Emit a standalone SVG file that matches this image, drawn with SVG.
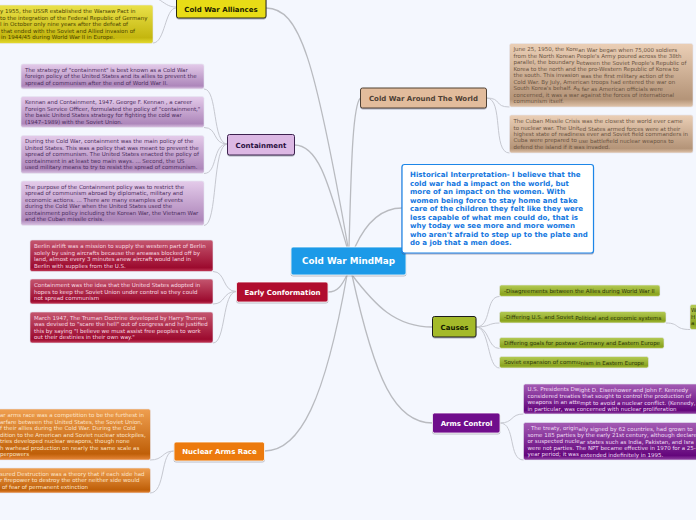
<svg xmlns="http://www.w3.org/2000/svg" width="696" height="520" viewBox="0 0 696 520">
<style>
text{font-family:"DejaVu Sans",Verdana,sans-serif}
.l{font-size:5.5px}
.n{font-size:7px;font-weight:bold;text-anchor:middle}
.c{fill:none;stroke:#c6c8d0;stroke-width:1}
.m{fill:none;stroke:#b9bbc0;stroke-width:1.3}
.leaf{stroke:#e4e6f0;stroke-width:.6}
.node{filter:url(#s)}
</style>
<defs>
<filter id="s" x="-10%" y="-20%" width="120%" height="150%"><feDropShadow dx="0" dy="1" stdDeviation=".7" flood-color="#556" flood-opacity=".45"/></filter>
<linearGradient id="gy" x1="0" y1="0" x2="0" y2="1"><stop offset="0" stop-color="#eae14a"/><stop offset=".85" stop-color="#c4b60e"/><stop offset="1" stop-color="#e6dc30"/></linearGradient>
<linearGradient id="gp" x1="0" y1="0" x2="0" y2="1"><stop offset="0" stop-color="#e4cbea"/><stop offset=".88" stop-color="#ad86ba"/><stop offset="1" stop-color="#dcc6e4"/></linearGradient>
<linearGradient id="gr" x1="0" y1="0" x2="0" y2="1"><stop offset="0" stop-color="#c4566f"/><stop offset=".88" stop-color="#9c0a2e"/><stop offset="1" stop-color="#c23a58"/></linearGradient>
<linearGradient id="go" x1="0" y1="0" x2="0" y2="1"><stop offset="0" stop-color="#ef9f50"/><stop offset=".88" stop-color="#bf5f08"/><stop offset="1" stop-color="#e8883a"/></linearGradient>
<linearGradient id="gt" x1="0" y1="0" x2="0" y2="1"><stop offset="0" stop-color="#ebcfb6"/><stop offset=".88" stop-color="#b49478"/><stop offset="1" stop-color="#e2c6ac"/></linearGradient>
<linearGradient id="gg" x1="0" y1="0" x2="0" y2="1"><stop offset="0" stop-color="#b4cb55"/><stop offset=".8" stop-color="#8aa31f"/><stop offset="1" stop-color="#a9c040"/></linearGradient>
<linearGradient id="gv" x1="0" y1="0" x2="0" y2="1"><stop offset="0" stop-color="#a45cb4"/><stop offset=".88" stop-color="#64067c"/><stop offset="1" stop-color="#9244a4"/></linearGradient>
</defs>
<rect width="696" height="520" fill="#f4f7fe"/>
<g id="connectors">
<path class="m" d="M266,8C300,8 315,60 348,247"/>
<path class="m" d="M360.500,98C352,105 351,180 349,247"/>
<path class="m" d="M294.500,145C320,145 330,190 347,247"/>
<path class="m" d="M402,208C380,208 365,225 355,247"/>
<path class="m" d="M328,292C338,292 342,285 347,275"/>
<path class="m" d="M432.500,327C395,327 375,305 352,275"/>
<path class="m" d="M432.500,423C395,423 375,380 352,275"/>
<path class="m" d="M264.500,451C300,451 325,400 347,275"/>
<path class="c" d="M176,8C165,8 165,43 153,43"/>
<path class="c" d="M176,7C168,7 165,3 158,-1"/>
<path class="c" d="M227.500,144C212,144 218,89 204,89"/>
<path class="c" d="M227.500,144C212,144 218,127.500 204,127.500"/>
<path class="c" d="M227.500,144C212,144 218,173.500 204,173.500"/>
<path class="c" d="M227.500,144C212,144 218,225.500 204,225.500"/>
<path class="c" d="M236.500,291.500C222,291.500 226,271.500 213,271.500"/>
<path class="c" d="M236.500,291.500C222,291.500 226,304 213,304"/>
<path class="c" d="M236.500,291.500C222,291.500 226,343 213,343"/>
<path class="c" d="M174,451C162,451 164,460 150,460"/>
<path class="c" d="M174,451C160,451 166,493 150,493"/>
<path class="c" d="M486.500,98C502,98 494,107 509.500,107"/>
<path class="c" d="M486.500,98C504,98 492,153 509.500,153"/>
<path class="c" d="M476,327C492,327 485,296.500 499.500,296.500"/>
<path class="c" d="M476,327C490,327 488,323 499.500,323"/>
<path class="c" d="M476,327C490,327 487,348.500 499.500,348.500"/>
<path class="c" d="M476,327C490,327 487,368 499.500,368"/>
<path class="c" d="M666,323C680,323 674,329.500 690,329.500"/>
<path class="c" d="M500,423C514,423 510,414 523.500,414"/>
<path class="c" d="M500,423C516,423 508,460 523.500,460"/>
</g>
<g id="central"><rect class="node" x="291" y="247" width="115" height="28" rx="2" fill="#1a9ae8" stroke="#fff" stroke-width=".8"/><text x="348.500" y="264" font-size="8.800" font-weight="bold" fill="#fff" text-anchor="middle">Cold War MindMap</text></g>
<g id="interpretation"><rect class="node" x="402" y="164.500" width="191.500" height="88.500" rx="2.500" fill="#fff" stroke="#1a86e8" stroke-width="1.200"/>
<text font-size="7.050" font-weight="bold" fill="#1477e0"><tspan x="410" y="177">Historical Interpretation- I believe that the</tspan><tspan x="410" y="186">cold war had a impact on the world, but</tspan><tspan x="410" y="194">more of an impact on the women. With</tspan><tspan x="410" y="203">women being force to stay home and take</tspan><tspan x="410" y="211">care of the children they felt like they were</tspan><tspan x="410" y="220">less capable of what men could do, that is</tspan><tspan x="410" y="228">why today we see more and more women</tspan><tspan x="410" y="237">who aren't afraid to step up to the plate and</tspan><tspan x="410" y="245">do a job that a men does.</tspan></text></g>
<g id="alliances"><rect class="node" x="176.500" y="-10" width="89.500" height="28" rx="2" fill="#e8dc16" stroke="#2a2a10" stroke-width="1"/><text class="n" x="221" y="11.500" fill="#1c1c00">Cold War Alliances</text></g>
<g id="alliances-leaf"><rect class="leaf" x="-5" y="5" width="158" height="38.500" rx="2" fill="url(#gy)"/>
<text class="l" fill="#4a4400"><tspan x="0" y="13">y 1955, the USSR established the Warsaw Pact in</tspan><tspan x="0" y="20">to the integration of the Federal Republic of Germany</tspan><tspan x="0" y="26">l in October only nine years after the defeat of</tspan><tspan x="1" y="33">that ended with the Soviet and Allied invasion of</tspan><tspan x="1" y="39">in 1944/45 during World War II in Europe.</tspan></text></g>
<g id="containment"><rect class="node" x="227.500" y="134.500" width="67" height="20.500" rx="2" fill="#dcb8e4" stroke="#3c2450" stroke-width="1"/><text class="n" x="261" y="147.500" fill="#2a1040">Containment</text></g>
<g id="containment-1"><rect class="leaf" x="21" y="64" width="183" height="25" rx="2" fill="url(#gp)"/>
<text class="l" fill="#4c2e60"><tspan x="25" y="72">The strategy of "containment" is best known as a Cold War</tspan><tspan x="25" y="78">foreign policy of the United States and its allies to prevent the</tspan><tspan x="25" y="85">spread of communism after the end of World War II.</tspan></text></g>
<g id="containment-2"><rect class="leaf" x="21" y="96.500" width="183" height="31" rx="2" fill="url(#gp)"/>
<text class="l" fill="#4c2e60"><tspan x="25" y="104">Kennan and Containment, 1947. George F. Kennan , a career</tspan><tspan x="25" y="111">Foreign Service Officer, formulated the policy of "containment,"</tspan><tspan x="25" y="117">the basic United States strategy for fighting the cold war</tspan><tspan x="25" y="124">(1947–1989) with the Soviet Union.</tspan></text></g>
<g id="containment-3"><rect class="leaf" x="21" y="135.500" width="183" height="38" rx="2" fill="url(#gp)"/>
<text class="l" fill="#4c2e60"><tspan x="25" y="143">During the Cold War, containment was the main policy of the</tspan><tspan x="25" y="150">United States. This was a policy that was meant to prevent the</tspan><tspan x="25" y="156">spread of communism. The United States enacted the policy of</tspan><tspan x="25" y="163">containment in at least two main ways. ... Second, the US</tspan><tspan x="25" y="169">used military means to try to resist the spread of communism.</tspan></text></g>
<g id="containment-4"><rect class="leaf" x="21" y="181" width="183" height="44.500" rx="2" fill="url(#gp)"/>
<text class="l" fill="#4c2e60"><tspan x="25" y="189">The purpose of the Containment policy was to restrict the</tspan><tspan x="25" y="195">spread of communism abroad by diplomatic, military and</tspan><tspan x="25" y="202">economic actions. ... There are many examples of events</tspan><tspan x="25" y="208">during the Cold War when the United States used the</tspan><tspan x="25" y="215">containment policy including the Korean War, the Vietnam War</tspan><tspan x="25" y="221">and the Cuban missile crisis.</tspan></text></g>
<g id="early"><rect class="node" x="236.500" y="282" width="91.500" height="20" rx="2" fill="#b00a2e" stroke="#fff" stroke-width=".8"/><text class="n" x="282.500" y="294.500" fill="#fff">Early Conformation</text></g>
<g id="early-1"><rect class="leaf" x="30" y="240" width="183" height="31.500" rx="2" fill="url(#gr)"/>
<text class="l" fill="#f8d8e0"><tspan x="34" y="248">Berlin airlift was a mission to supply the western part of Berlin</tspan><tspan x="34" y="255">solely by using aircrafts because the areawas blocked off by</tspan><tspan x="34" y="261">land, almost every 3 minutes anew aircraft would land in</tspan><tspan x="34" y="268">Berlin with supplies from the U.S.</tspan></text></g>
<g id="early-2"><rect class="leaf" x="30" y="279" width="183" height="25" rx="2" fill="url(#gr)"/>
<text class="l" fill="#f8d8e0"><tspan x="34" y="287">Containment was the idea that the United States adopted in</tspan><tspan x="34" y="294">hopes to keep the Soviet Union under control so they could</tspan><tspan x="34" y="300">not spread communism</tspan></text></g>
<g id="early-3"><rect class="leaf" x="30" y="312" width="183" height="31" rx="2" fill="url(#gr)"/>
<text class="l" fill="#f8d8e0"><tspan x="34" y="320">March 1947, The Truman Doctrine developed by Harry Truman</tspan><tspan x="34" y="326">was devised to "scare the hell" out of congress and he justified</tspan><tspan x="34" y="333">this by saying "I believe we must assist free peoples to work</tspan><tspan x="34" y="339">out their destinies in their own way."</tspan></text></g>
<g id="nuclear"><rect class="node" x="174" y="442" width="90.500" height="19" rx="2" fill="#ec7a0c" stroke="#fff" stroke-width=".8"/><text class="n" x="219.500" y="454" fill="#fff">Nuclear Arms Race</text></g>
<g id="nuclear-1"><rect class="leaf" x="-5" y="409" width="155.500" height="51" rx="2" fill="url(#go)"/>
<text class="l" fill="#fde4c8"><tspan x="0" y="417">ar arms race was a competition to be the furthest in</tspan><tspan x="0" y="424">arfare between the United States, the Soviet Union,</tspan><tspan x="0" y="430">f their allies during the Cold War. During the Cold</tspan><tspan x="0" y="437">dition to the American and Soviet nuclear stockpiles,</tspan><tspan x="0" y="443">tries developed nuclear weapons, though none</tspan><tspan x="0" y="450">h warhead production on nearly the same scale as</tspan><tspan x="0" y="456">perpowers</tspan></text></g>
<g id="nuclear-2"><rect class="leaf" x="-5" y="468" width="155.500" height="25" rx="2" fill="url(#go)"/>
<text class="l" fill="#fde4c8"><tspan x="0" y="476">sured Destruction was a theory that if each side had</tspan><tspan x="0" y="482">r firepower to destroy the other neither side would</tspan><tspan x="2" y="489">of fear of permanent extinction</tspan></text></g>
<g id="around"><rect class="node" x="360.500" y="88" width="126" height="20" rx="2" fill="#e2bc9c" stroke="#4e4034" stroke-width="1"/><text class="n" x="423.500" y="100.500" fill="#4e4034">Cold War Around The World</text></g>
<g id="around-1"><rect class="leaf" x="509.500" y="43.500" width="183.500" height="63.500" rx="2" fill="url(#gt)"/>
<text class="l" fill="#6a5442"><tspan x="513.500" y="51">June 25, 1950, the Kore<tspan dy="1">an War began when 75,000 soldiers</tspan></tspan><tspan x="513.500" y="58">from the North Korean People's Army poured across the 38th</tspan><tspan x="513.500" y="64">parallel, the boundary b<tspan dy="1">etween the Soviet People's Republic of</tspan></tspan><tspan x="513.500" y="71">Korea to the north and the pro-Western Republic of Korea to</tspan><tspan x="513.500" y="77">the south. This invasion <tspan dy="1">was the first military action of the</tspan></tspan><tspan x="513.500" y="84">Cold War. By July, American troops had entered the war on</tspan><tspan x="513.500" y="90">South Korea's behalf. A<tspan dy="1">s far as American officials were</tspan></tspan><tspan x="513.500" y="97">concerned, it was a war against the forces of international</tspan><tspan x="513.500" y="103">communism itself.</tspan></text></g>
<g id="around-2"><rect class="leaf" x="509.500" y="115" width="183.500" height="38" rx="2" fill="url(#gt)"/>
<text class="l" fill="#6a5442"><tspan x="513.500" y="123">The Cuban Missile Crisis was the closest the world ever came</tspan><tspan x="513.500" y="130">to nuclear war. The Unit<tspan dy="1">ed States armed forces were at their</tspan></tspan><tspan x="513.500" y="136">highest state of readiness ever and Soviet field commanders in</tspan><tspan x="513.500" y="142">Cuba were prepared to <tspan dy="1">use battlefield nuclear weapons to</tspan></tspan><tspan x="513.500" y="149">defend the island if it was invaded.</tspan></text></g>
<g id="causes"><rect class="node" x="432.500" y="316.500" width="43.500" height="20.500" rx="2" fill="#a4ba2c" stroke="#1c1c1c" stroke-width="1"/><text class="n" x="454.500" y="329.500" fill="#141a00">Causes</text></g>
<g id="cause-1"><rect class="leaf" x="499.500" y="285" width="160.500" height="11.500" rx="2" fill="url(#gg)"/><text class="l" x="504" y="293" fill="#2c3608">-Disagreements between the Allies during World War II</text></g>
<g id="cause-2"><rect class="leaf" x="499.500" y="311.500" width="166.500" height="11.500" rx="2" fill="url(#gg)"/><text class="l" x="504" y="319" fill="#2c3608">-Differing U.S. and Soviet <tspan dy="1">Political and economic systems</tspan></text></g>
<g id="cause-3"><rect class="leaf" x="499.500" y="337.500" width="164.500" height="11" rx="2" fill="url(#gg)"/><text class="l" x="504" y="345" fill="#2c3608">Differing goals for postwar Germany and Eastern Europe</text></g>
<g id="cause-4"><rect class="leaf" x="499.500" y="356.500" width="149" height="11.500" rx="2" fill="url(#gg)"/><text class="l" x="504" y="364" fill="#2c3608">Soviet expansion of commu<tspan dy="1">nism in Eastern Europe</tspan></text></g>
<g id="cause-5"><rect class="leaf" x="690" y="304.500" width="12" height="25" rx="2" fill="url(#gg)"/><text class="l" fill="#2c3608"><tspan x="691" y="312">W</tspan><tspan x="691" y="319">H</tspan><tspan x="691" y="325">a</tspan></text></g>
<g id="arms"><rect class="node" x="432.500" y="413" width="67.500" height="20" rx="2" fill="#70088c" stroke="#fff" stroke-width=".8"/><text class="n" x="466.500" y="425.500" fill="#fff">Arms Control</text></g>
<g id="arms-1"><rect class="leaf" x="523.500" y="384" width="180" height="30" rx="2" fill="url(#gv)"/>
<text class="l" fill="#efdcf4"><tspan x="527.500" y="391">U.S. Presidents Dw<tspan dy="1">ight D. Eisenhower and John F. Kennedy</tspan></tspan><tspan x="527.500" y="398">considered treaties that sought to control the production of</tspan><tspan x="527.500" y="404">weapons in an atte<tspan dy="1">mpt to avoid a nuclear conflict. (Kennedy,</tspan></tspan><tspan x="527.500" y="411">in particular, was concerned with nuclear proliferation</tspan></text></g>
<g id="arms-2"><rect class="leaf" x="523.500" y="422.500" width="180" height="37.500" rx="2" fill="url(#gv)"/>
<text class="l" fill="#efdcf4"><tspan x="527.500" y="430">. The treaty, origin<tspan dy="1">ally signed by 62 countries, had grown to</tspan></tspan><tspan x="527.500" y="437">some 185 parties by the early 21st century, although declare</tspan><tspan x="527.500" y="443">or suspected nucle<tspan dy="1">ar states such as India, Pakistan, and Isra</tspan></tspan><tspan x="527.500" y="450">were not parties. The NPT became effective in 1970 for a 25-</tspan><tspan x="527.500" y="456">year period; it was <tspan dy="1">extended indefinitely in 1995.</tspan></tspan></text></g>
</svg>
